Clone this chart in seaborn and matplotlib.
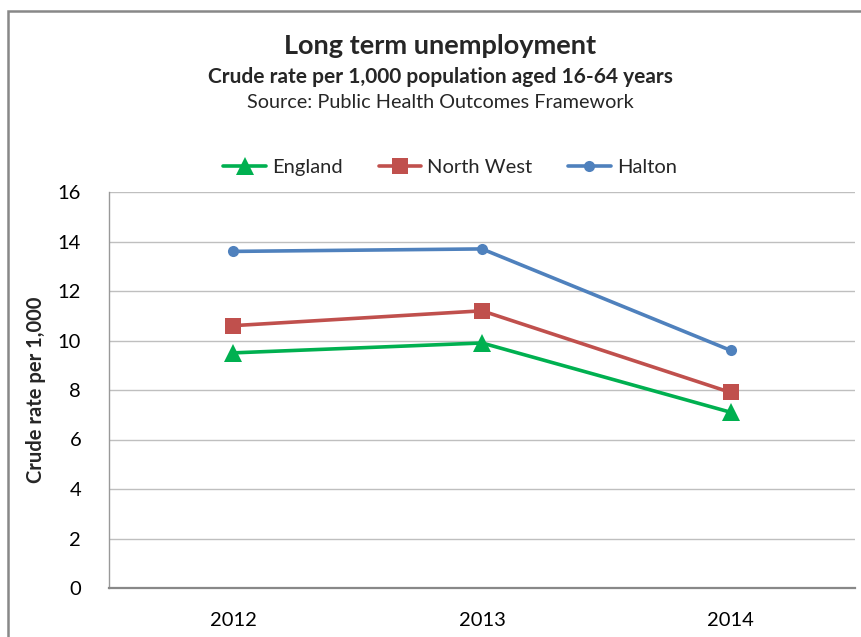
import matplotlib
matplotlib.use("Agg")
import matplotlib.pyplot as plt
import seaborn as sns
import pandas as pd
from matplotlib.patches import Rectangle

years = ["2012", "2013", "2014"]
england = [9.5, 9.9, 7.1]
north_west = [10.6, 11.2, 7.9]
halton = [13.6, 13.7, 9.6]
series_names = ["England", "North West", "Halton"]
y_ticks = [0, 2, 4, 6, 8, 10, 12, 14, 16]

df = pd.DataFrame({
    "Year": years * 3,
    "Rate": england + north_west + halton,
    "Area": [n for n in series_names for _ in years],
})

sns.set_theme(style="white")
plt.rcParams["font.family"] = ["Lato", "DejaVu Sans"]

palette = {"England": "#00B050", "North West": "#C0504D", "Halton": "#4F81BD"}
markers = {"England": "^", "North West": "s", "Halton": "o"}
msizes = {"England": 13, "North West": 11, "Halton": 8}

fig = plt.figure(figsize=(8.61, 6.37), dpi=100)
ax = fig.add_axes([109 / 861, 1 - 588 / 637, 746 / 861, 396 / 637])

for name in series_names:
    sub = df[df["Area"] == name]
    sns.lineplot(data=sub, x="Year", y="Rate", ax=ax, color=palette[name],
                 marker=markers[name], markersize=msizes[name],
                 markeredgewidth=0, linewidth=2.6, label=name, sort=False)

ax.set_xlim(-0.5, 2.5)
ax.set_ylim(0, 16)
ax.set_yticks(y_ticks)
ax.set_yticklabels([str(t) for t in y_ticks])
ax.tick_params(axis="both", length=0, labelsize=14.5, colors="#000000")
ax.tick_params(axis="y", pad=20)
ax.tick_params(axis="x", pad=17)
ax.yaxis.grid(True, color="#bfbfbf", linewidth=1)
ax.set_axisbelow(True)
for s in ["top", "right"]:
    ax.spines[s].set_visible(False)
ax.spines["left"].set_color("#999999")
ax.spines["left"].set_linewidth(1)
ax.spines["bottom"].set_color("#888888")
ax.spines["bottom"].set_linewidth(1.6)
ax.set_xlabel("")
ax.set_ylabel("Crude rate per 1,000", fontsize=14.5, fontweight="bold")
ax.yaxis.set_label_coords(-(109 - 46) / 746, 0.5)

ax.get_legend().remove()
handles, labels = ax.get_legend_handles_labels()
fig.legend(handles, labels, loc="center", bbox_to_anchor=(450 / 861, 1 - 167 / 637),
           ncol=3, frameon=False, fontsize=14.5, handlelength=2.1,
           columnspacing=1.8, handletextpad=0.3)

cx = 440 / 861
fig.text(cx, 1 - 46 / 637, "Long term unemployment", ha="center", va="center",
         fontsize=19.5, fontweight="bold")
fig.text(cx, 1 - 77 / 637, "Crude rate per 1,000 population aged 16-64 years",
         ha="center", va="center", fontsize=15, fontweight="bold")
fig.text(cx, 1 - 103 / 637, "Source: Public Health Outcomes Framework",
         ha="center", va="center", fontsize=14.3)

# chart frame
fig.patches.append(Rectangle((8 / 861, -0.05), 1.1, 1 - 11 / 637 + 0.05,
                             transform=fig.transFigure, fill=False,
                             edgecolor="#888888", linewidth=1.8))

fig.savefig("out.png", dpi=100)
